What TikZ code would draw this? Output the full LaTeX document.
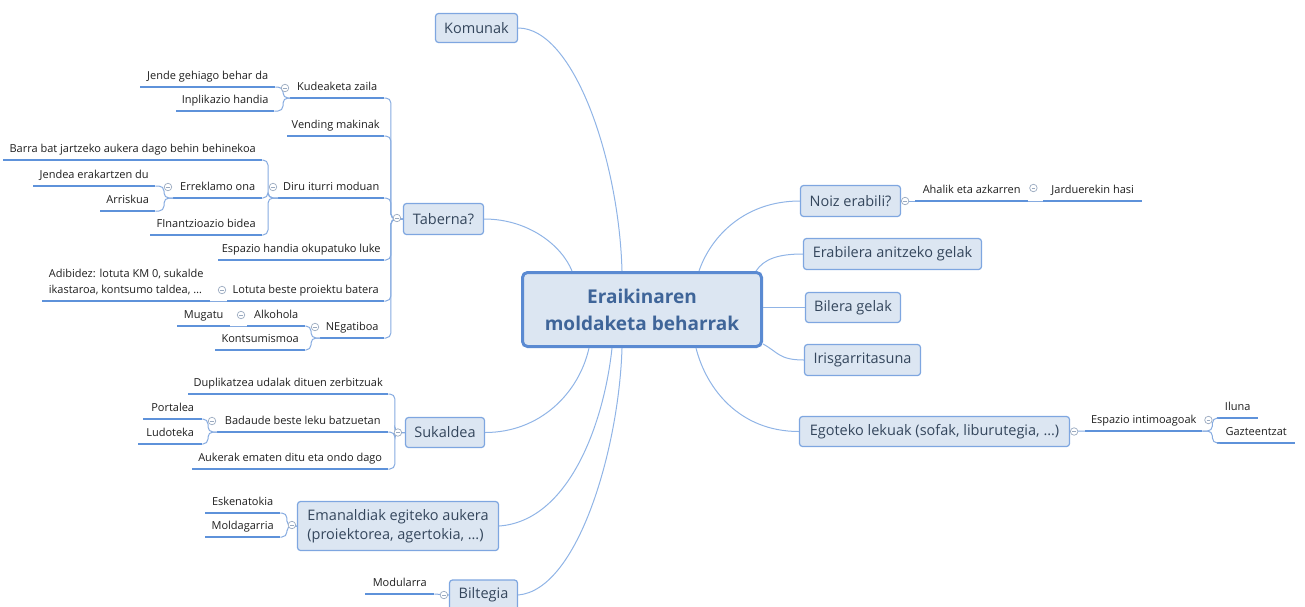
\documentclass[tikz,border=0pt]{standalone}
\usepackage{fontspec}
\setmainfont{Open Sans}
\definecolor{tfill}{HTML}{DCE6F2}
\definecolor{tborder}{HTML}{7EA6E0}
\definecolor{cborder}{HTML}{5A8AD2}
\definecolor{ctext}{HTML}{3F6599}
\definecolor{ttext}{HTML}{34465C}
\definecolor{mcol}{HTML}{90B4E6}
\definecolor{ucol}{HTML}{5E92DA}
\definecolor{bcol}{HTML}{86ABE0}
\definecolor{stext}{HTML}{1E1E1E}
\definecolor{ccol}{HTML}{9AAAC0}
\begin{document}
\begin{tikzpicture}[x=1pt,y=-1pt,
  topic/.style={draw=tborder, fill=tfill, rounded corners=3pt, line width=1.2pt, text=ttext, font=\fontsize{14.5}{19}\selectfont, inner sep=0pt},
  subbase/.style={inner xsep=0pt, inner ysep=4.5pt, text depth=2.5pt, anchor=south west, text=stext, font=\fontsize{11}{16}\selectfont},
  sub/.style={subbase, text height=8pt},
  uline/.style={draw=ucol, line width=1.8pt},
  brk/.style={draw=bcol, line width=1pt, rounded corners=5pt},
  mainc/.style={draw=mcol, line width=1pt},
  col/.style={circle, draw=ccol, fill=white, line width=0.7pt, minimum size=7.5pt, inner sep=0pt,
    path picture={\draw[ccol, line width=0.7pt] ([xshift=-1.8pt]path picture bounding box.center) -- ([xshift=1.8pt]path picture bounding box.center);}},
]
\useasboundingbox (0,0) rectangle (1305,606);

% central
\node[draw=cborder, fill=tfill, line width=3pt, rounded corners=5pt, minimum width=239pt, minimum height=74pt, align=center, font=\fontsize{19}{27}\selectfont\bfseries, text=ctext, inner sep=0pt] (c) at (642,309.5) {Eraikinaren\\moldaketa beharrak};

% topics
\node[topic, minimum width=82pt, minimum height=29pt] (kom) at (476.5,28) {Komunak};
\node[topic, minimum width=80pt, minimum height=31pt] (tab) at (443.5,219) {Taberna?};
\node[topic, minimum width=79pt, minimum height=30pt] (suk) at (445,432.5) {Sukaldea};
\node[topic, minimum width=201pt, minimum height=49pt, align=left] (ema) at (398,526) {Emanaldiak egiteko aukera\\(proiektorea, agertokia, …)};
\node[topic, minimum width=68pt, minimum height=30pt] (bilt) at (483.5,595) {Biltegia};
\node[topic, minimum width=100pt, minimum height=31pt] (noiz) at (850.5,201) {Noiz erabili?};
\node[topic, minimum width=178pt, minimum height=31pt] (erab) at (892.5,254) {Erabilera anitzeko gelak};
\node[topic, minimum width=95pt, minimum height=30pt] (bile) at (853,307.5) {Bilera gelak};
\node[topic, minimum width=116pt, minimum height=31pt] (iris) at (862.5,360) {Irisgarritasuna};
\node[topic, minimum width=270pt, minimum height=30pt] (ego) at (934.5,431.5) {Egoteko lekuak (sofak, liburutegia, …)};

% main connectors
\draw[mainc] (kom.east) .. controls +(56,0) and +(-3,-110) .. ([shift={(101,0)}]c.north west);
\draw[mainc] (tab.east) .. controls +(45,0) and +(-10,-25) .. ([shift={(51,0)}]c.north west);
\draw[mainc] (suk.east) .. controls +(55,0) and +(-10,45) .. ([shift={(68,0)}]c.south west);
\draw[mainc] (ema.east) .. controls +(70,-5) and +(-8,75) .. ([shift={(91,0)}]c.south west);
\draw[mainc] (bilt.east) .. controls +(60,-5) and +(-3,100) .. ([shift={(101,0)}]c.south west);
\draw[mainc] (noiz.west) .. controls +(-55,0) and +(12,-35) .. ([shift={(178,0)}]c.north west);
\draw[mainc] (erab.west) .. controls +(-25,0) and +(8,-12) .. ([shift={(-7,0)}]c.north east);
\draw[mainc] (bile.west) .. controls +(-20,0) and +(20,0) .. ([shift={(0,-2)}]c.east);
\draw[mainc] (iris.west) .. controls +(-25,0) and +(15,8) .. ([shift={(0,-4)}]c.south east);
\draw[mainc] (ego.west) .. controls +(-60,0) and +(10,40) .. ([shift={(175,0)}]c.south west);

% sub topics
\node[sub, minimum width=94pt] (kud) at (290,98) {Kudeaketa zaila};
\node[sub, minimum width=97pt] (vend) at (287,136) {Vending makinak};
\node[sub, minimum width=106pt] (diru) at (278,198) {Diru iturri moduan};
\node[sub, minimum width=166pt] (espa) at (218,260) {Espazio handia okupatuko luke};
\node[sub, minimum width=157pt] (lot) at (227,301) {Lotuta beste proiektu batera};
\node[sub, minimum width=64pt] (neg) at (320,338) {NEgatiboa};
\node[sub, minimum width=135pt] (jende) at (140,87) {Jende gehiago behar da};
\node[sub, minimum width=98pt] (inpl) at (176,111) {Inplikazio handia};
\node[sub, minimum width=259pt] (barra) at (3,160) {Barra bat jartzeko aukera dago behin behinekoa};
\node[sub, minimum width=89pt] (errek) at (173,198) {Erreklamo ona};
\node[sub, minimum width=112pt] (finan) at (150,235) {FInantzioazio bidea};
\node[sub, minimum width=122pt] (jendea) at (33,186) {Jendea erakartzen du};
\node[sub, minimum width=55pt] (arris) at (100,211) {Arriskua};
\node[subbase, align=left, minimum width=168pt] (adib) at (42,301) {Adibidez: lotuta KM 0, sukalde\\ikastaroa, kontsumo taldea, …};
\node[sub, minimum width=58pt] (alk) at (247,326) {Alkohola};
\node[sub, minimum width=90pt] (kons) at (215,350) {Kontsumismoa};
\node[sub, minimum width=53pt] (mug) at (177,326) {Mugatu};
\node[sub, minimum width=200pt] (dup) at (188,394) {Duplikatzea udalak dituen zerbitzuak};
\node[sub, minimum width=171pt] (bad) at (217,432) {Badaude beste leku batzuetan};
\node[sub, minimum width=196pt] (auk) at (192,469) {Aukerak ematen ditu eta ondo dago};
\node[sub, minimum width=59pt] (port) at (143,419) {Portalea};
\node[sub, minimum width=64pt] (lud) at (138,444) {Ludoteka};
\node[sub, minimum width=75pt] (esk) at (205,513) {Eskenatokia};
\node[sub, minimum width=75pt] (mold) at (205,537) {Moldagarria};
\node[sub, minimum width=69pt] (mod) at (365,594) {Modularra};
\node[sub, minimum width=113pt] (ahal) at (915,201) {Ahalik eta azkarren};
\node[sub, minimum width=99pt] (jard) at (1043,201) {Jarduerekin hasi};
\node[sub, minimum width=117pt] (espi) at (1085,431) {Espazio intimoagoak};
\node[sub, minimum width=41pt] (ilu) at (1217,418) {Iluna};
\node[sub, minimum width=78pt] (gaz) at (1217,443) {Gazteentzat};

% underlines
\foreach \n in {kud,vend,diru,espa,lot,neg,jende,inpl,barra,errek,finan,jendea,arris,adib,alk,kons,mug,dup,bad,auk,port,lud,esk,mold,mod,ahal,jard,espi,ilu,gaz}
  \draw[uline] (\n.south west) -- (\n.south east);

% brackets
\foreach \ch in {kud,vend,diru,espa,lot,neg} \draw[brk] (tab.west) -- ++(-12,0) |- (\ch.south east);
\foreach \ch in {jende,inpl} \draw[brk] (kud.south west) -- ++(-7,0) |- (\ch.south east);
\foreach \ch in {barra,errek,finan} \draw[brk] (diru.south west) -- ++(-10,0) |- (\ch.south east);
\foreach \ch in {jendea,arris} \draw[brk] (errek.south west) -- ++(-9,0) |- (\ch.south east);
\draw[brk] (lot.south west) -- (adib.south east);
\foreach \ch in {alk,kons} \draw[brk] (neg.south west) -- ++(-9,0) |- (\ch.south east);
\draw[brk] (alk.south west) -- (mug.south east);
\foreach \ch in {dup,bad,auk} \draw[brk] (suk.west) -- ++(-10,0) |- (\ch.south east);
\foreach \ch in {port,lud} \draw[brk] (bad.south west) -- ++(-9,0) |- (\ch.south east);
\foreach \ch in {esk,mold} \draw[brk] (ema.west) -- ++(-10,0) |- (\ch.south east);
\draw[brk] (bilt.west) -- (mod.south east);
\draw[brk] (noiz.east) -- (ahal.south west);
\draw[brk] (ahal.south east) -- (jard.south west);
\draw[brk] (ego.east) -- (espi.south west);
\foreach \ch in {ilu,gaz} \draw[brk] (espi.south east) -- ++(10,0) |- (\ch.south west);

% collapse markers
\node[col] (k1) at ([shift={(-5,-10)}]kud.south west) {};
\node[col] (k2) at ([shift={(-5,-11)}]diru.south west) {};
\node[col] (k3) at ([shift={(-5,-11)}]errek.south west) {};
\node[col] (k4) at ([shift={(-5,-11)}]lot.south west) {};
\node[col] (k5) at ([shift={(-6,-11)}]alk.south west) {};
\node[col] (k6) at ([shift={(-5,-11)}]neg.south west) {};
\node[col] (k7) at ([shift={(-6,-1)}]tab.west) {};
\node[col] (k8) at ([shift={(-7,0)}]suk.west) {};
\node[col] (k9) at ([shift={(-5,-11)}]bad.south west) {};
\node[col] (k10) at ([shift={(-5,-1)}]ema.west) {};
\node[col] (k11) at ([shift={(-5,0)}]bilt.west) {};
\node[col] (k12) at ([shift={(4,0)}]noiz.east) {};
\node[col] (k13) at ([shift={(5,-13)}]ahal.south east) {};
\node[col] (k14) at ([shift={(4,0)}]ego.east) {};
\node[col] (k15) at ([shift={(6,-11)}]espi.south east) {};
\end{tikzpicture}
\end{document}
